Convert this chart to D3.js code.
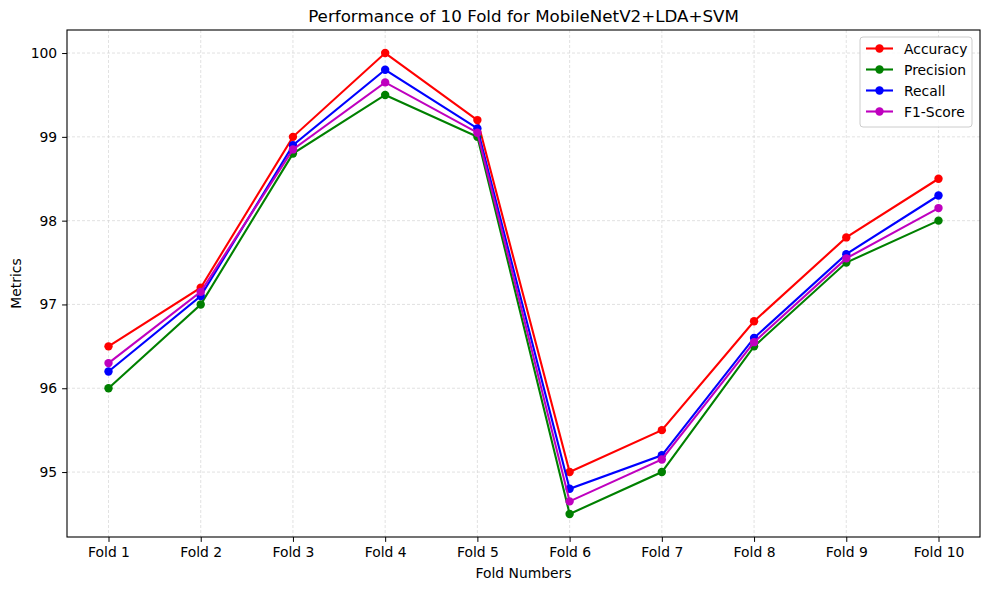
<!DOCTYPE html>
<html>
<head>
<meta charset="utf-8">
<script src="https://cdn.jsdelivr.net/npm/d3@7"></script>
<style>
  body { margin: 0; background: #fff; }
  svg { display: block; font-family: "DejaVu Sans", sans-serif; }
</style>
</head>
<body>
<div id="chart"></div>
<script>
const folds = ["Fold 1", "Fold 2", "Fold 3", "Fold 4", "Fold 5", "Fold 6", "Fold 7", "Fold 8", "Fold 9", "Fold 10"];
const accuracy = [96.5, 97.2, 99.0, 100.0, 99.2, 95.0, 95.5, 96.8, 97.8, 98.5];
const precision = [96.0, 97.0, 98.8, 99.5, 99.0, 94.5, 95.0, 96.5, 97.5, 98.0];
const recall = [96.2, 97.1, 98.9, 99.8, 99.1, 94.8, 95.2, 96.6, 97.6, 98.3];
const f1Score = [96.3, 97.15, 98.85, 99.65, 99.05, 94.65, 95.15, 96.55, 97.55, 98.15];
const yTicks = [95, 96, 97, 98, 99, 100];

const series = [
  { name: "Accuracy", values: accuracy, color: "#ff0000" },
  { name: "Precision", values: precision, color: "#008000" },
  { name: "Recall", values: recall, color: "#0000ff" },
  { name: "F1-Score", values: f1Score, color: "#bf00bf" }
];

const width = 989, height = 590;
const plot = { left: 67, right: 980, top: 30, bottom: 537 };

const svg = d3.select("#chart").append("svg")
  .attr("width", width)
  .attr("height", height);

const x = d3.scaleLinear().domain([-0.45, 9.45]).range([plot.left, plot.right]);
const y = d3.scaleLinear().domain([94.225, 100.275]).range([plot.bottom, plot.top]);

// grid
const grid = svg.append("g").attr("stroke", "#c4c4c4").attr("stroke-width", 0.7)
  .attr("stroke-dasharray", "3,2").attr("opacity", 0.7);
folds.forEach((f, i) => {
  grid.append("line").attr("x1", x(i)).attr("x2", x(i)).attr("y1", plot.top).attr("y2", plot.bottom);
});
yTicks.forEach(t => {
  grid.append("line").attr("x1", plot.left).attr("x2", plot.right).attr("y1", y(t)).attr("y2", y(t));
});

// axes
const xAxis = d3.axisBottom(x)
  .tickValues(d3.range(folds.length))
  .tickFormat(i => folds[i])
  .tickSizeOuter(0)
  .tickSize(4.9)
  .tickPadding(4.9);
const gx = svg.append("g").attr("transform", `translate(0,${plot.bottom})`).call(xAxis);

const yAxis = d3.axisLeft(y)
  .tickValues(yTicks)
  .tickFormat(d3.format("d"))
  .tickSizeOuter(0)
  .tickSize(4.9)
  .tickPadding(4.9);
const gy = svg.append("g").attr("transform", `translate(${plot.left},0)`).call(yAxis);

[gx, gy].forEach(g => {
  g.select(".domain").remove();
  g.selectAll(".tick line").attr("stroke", "#000").attr("stroke-width", 1);
  g.selectAll(".tick text").attr("fill", "#000").attr("font-size", "13.9px")
    .attr("font-family", "DejaVu Sans, sans-serif");
});

// lines and markers
const line = d3.line().x((d, i) => x(i)).y(d => y(d));
series.forEach(s => {
  const g = svg.append("g");
  g.append("path").datum(s.values)
    .attr("d", line)
    .attr("fill", "none")
    .attr("stroke", s.color)
    .attr("stroke-width", 2.1);
  g.selectAll("circle").data(s.values).join("circle")
    .attr("cx", (d, i) => x(i))
    .attr("cy", d => y(d))
    .attr("r", 4.2)
    .attr("fill", s.color);
});

// frame
svg.append("rect")
  .attr("x", plot.left).attr("y", plot.top)
  .attr("width", plot.right - plot.left).attr("height", plot.bottom - plot.top)
  .attr("fill", "none").attr("stroke", "#000").attr("stroke-width", 1.1);

// titles
svg.append("text").attr("x", (plot.left + plot.right) / 2).attr("y", 22)
  .attr("text-anchor", "middle").attr("font-size", "16.7px").text("Performance of 10 Fold for MobileNetV2+LDA+SVM");
svg.append("text").attr("x", (plot.left + plot.right) / 2).attr("y", 578)
  .attr("text-anchor", "middle").attr("font-size", "13.9px").text("Fold Numbers");
svg.append("text").attr("transform", `translate(21,${(plot.top + plot.bottom) / 2}) rotate(-90)`)
  .attr("text-anchor", "middle").attr("font-size", "13.9px").text("Metrics");

// legend
const legend = svg.append("g").attr("transform", "translate(860,37)");
legend.append("rect").attr("width", 112).attr("height", 90).attr("rx", 3)
  .attr("fill", "#fff").attr("fill-opacity", 0.8).attr("stroke", "#cccccc");
series.forEach((s, i) => {
  const cy = 11.5 + i * 21;
  legend.append("line").attr("x1", 6).attr("x2", 33).attr("y1", cy).attr("y2", cy)
    .attr("stroke", s.color).attr("stroke-width", 2.1);
  legend.append("circle").attr("cx", 19.5).attr("cy", cy).attr("r", 4.2).attr("fill", s.color);
  legend.append("text").attr("x", 44).attr("y", cy + 5).attr("font-size", "13.9px").text(s.name);
});
</script>
</body>
</html>
